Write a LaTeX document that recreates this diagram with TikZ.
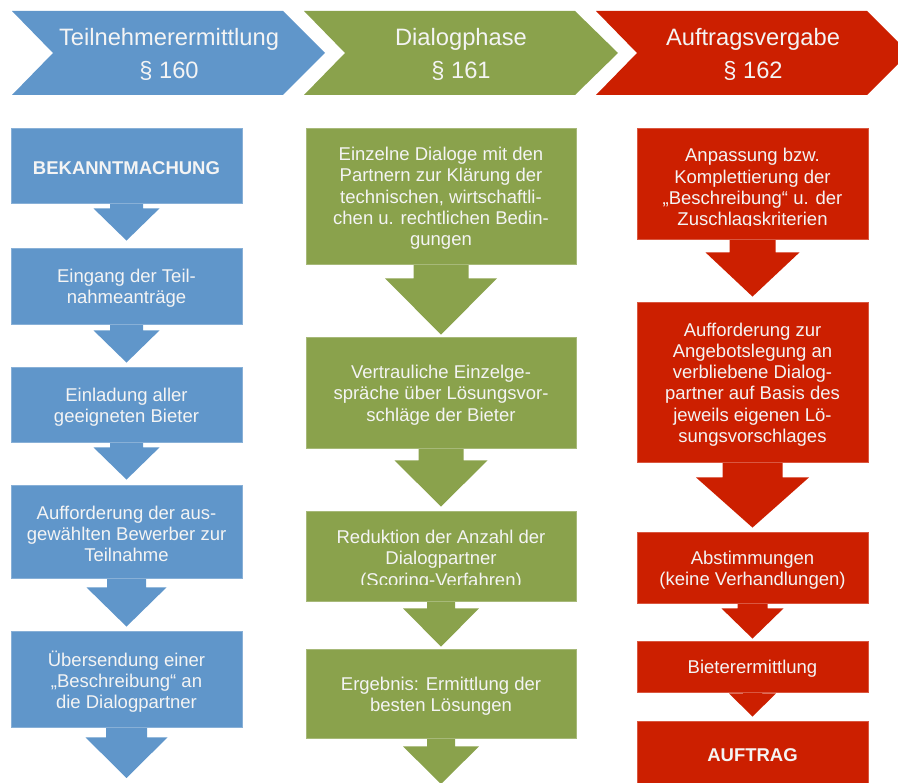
\documentclass[tikz,border=0pt]{standalone}
\usepackage{fontspec}
\setmainfont{Liberation Sans}
\usetikzlibrary{calc}
\definecolor{cblue}{HTML}{6096CA}
\definecolor{cgreen}{HTML}{8AA24C}
\definecolor{cred}{HTML}{CC1F00}
\definecolor{ctext}{HTML}{F4F4F4}
\newcommand{\mybody}{\fontsize{18.5}{21.3}\selectfont}
\newcommand{\myhead}{\fontsize{23.7}{28}\selectfont}
\pgfdeclarelayer{back}
\pgfsetlayers{back,main}
% #1 colour, #2 from node, #3 target point, #4 shaft half width, #5 head half width, #6 head drop, #7 gap
\newcommand{\blkarrow}[7]{%
  \begin{pgfonlayer}{back}
  \fill[#1] ($(#2.south)+(-#4,-2)$) -- ($(#2.south)+(-#4,#6)$) -- ($(#2.south)+(-#5,#6)$)
    -- ($(#3)+(0,-#7)$) -- ($(#2.south)+(#5,#6)$) -- ($(#2.south)+(#4,#6)$) -- ($(#2.south)+(#4,-2)$) -- cycle;
  \end{pgfonlayer}}
% #1 name, #2 colour, #3 centre, #4 width, #5 height, #6 text
\newcommand{\stepbox}[6]{%
  \node[box=#2, minimum width=#4pt, minimum height=#5pt] (#1) at #3 {};
  \node[boxtext] (#1t) at ($(#1.center)+(0,2.5)$) {#6};}
\begin{document}
\begin{tikzpicture}[x=1pt,y=-1pt,
  box/.style={rectangle, inner sep=0pt, draw=#1!75!white, line width=0.8pt, fill=#1},
  boxtext/.style={inner sep=0pt, text=ctext, align=center, font=\mybody},
  head/.style={inner sep=0pt, text=ctext, font=\myhead, anchor=base}]
\useasboundingbox (0,0) rectangle (898,783);

% header chevrons
\fill[cblue]  (12,11) -- (283,11) -- (325,53) -- (283,95) -- (12,95) -- (53,53) -- cycle;
\fill[cgreen] (304,11) -- (575,11) -- (618,53) -- (575,95) -- (304,95) -- (345,53) -- cycle;
\fill[cred]   (596,11) -- (867,11) -- (909,53) -- (867,95) -- (596,95) -- (637,53) -- cycle;
\node[head] (h1) at (169,45.5) {Teilnehmerermittlung};
\node[head] (h1n) at (169,78.5) {§ 160};
\node[head] (h2) at (461,45.5) {Dialogphase};
\node[head] (h2n) at (461,78.5) {§ 161};
\node[head] (h3) at (753,45.5) {Auftragsvergabe};
\node[head] (h3n) at (753,78.5) {§ 162};

% blue column
\stepbox{b1}{cblue}{(126.5,165.5)}{231}{75}{\textbf{BEKANNTMACHUNG}}
\stepbox{b2}{cblue}{(126.5,286)}{231}{76}{Eingang der Teil-\\nahmeanträge}
\stepbox{b3}{cblue}{(126.5,404.5)}{231}{75}{Einladung aller\\geeigneten Bieter}
\stepbox{b4}{cblue}{(126.5,531.5)}{231}{93}{Aufforderung der aus-\\gewählten Bewerber zur\\Teilnahme}
\stepbox{b5}{cblue}{(126.5,679)}{231}{96}{Übersendung einer\\„Beschreibung“ an\\die Dialogpartner}
\coordinate (bend) at (126.5,778);
\blkarrow{cblue}{b1}{b2.north}{16.5}{33}{5}{7}
\blkarrow{cblue}{b2}{b3.north}{16.5}{33}{6}{4}
\blkarrow{cblue}{b3}{b4.north}{16.5}{33}{5}{5}
\blkarrow{cblue}{b4}{b5.north}{19.5}{40}{9}{4}
\blkarrow{cblue}{b5}{bend}{20.5}{41}{10}{0}

% green column
\stepbox{g1}{cgreen}{(441,196)}{270}{136}{Einzelne Dialoge mit den\\Partnern zur Klärung der\\technischen, wirtschaftli-\\chen u. rechtlichen Bedin-\\gungen}
\stepbox{g2}{cgreen}{(441,392.5)}{270}{111}{Vertrauliche Einzelge-\\spräche über Lösungsvor-\\schläge der Bieter}
\node[box=cgreen, minimum width=270pt, minimum height=90pt] (g3) at (441,556) {};
\begin{scope}
  \clip (306,511) rectangle (576,585);
  \node[boxtext] (g3t) at (441,560) {Reduktion der Anzahl der\\Dialogpartner\\(Scoring-Verfahren)};
\end{scope}
\stepbox{g4}{cgreen}{(441,693.5)}{270}{89}{Ergebnis: Ermittlung der\\besten Lösungen}
\coordinate (gend) at (441,784);
\blkarrow{cgreen}{g1}{g2.north}{27.5}{56}{14}{2}
\blkarrow{cgreen}{g2}{g3.north}{22.5}{46.5}{12}{4}
\blkarrow{cgreen}{g3}{g4.north}{14}{38}{7}{2}
\blkarrow{cgreen}{g4}{gend}{14}{38}{8}{0}

% red column
\node[box=cred, minimum width=231pt, minimum height=111pt] (r1) at (752.5,183.5) {};
\begin{scope}
  \clip (637,128) rectangle (868,225.5);
  \node[boxtext] (r1t) at (752.5,189) {Anpassung bzw.\\Komplettierung der\\„Beschreibung“ u. der\\Zuschlagskriterien};
\end{scope}
\stepbox{r2}{cred}{(752.5,382)}{231}{160}{Aufforderung zur\\Angebotslegung an\\verbliebene Dialog-\\partner auf Basis des\\jeweils eigenen Lö-\\sungsvorschlages}
\stepbox{r3}{cred}{(752.5,567.5)}{231}{71}{Abstimmungen\\(keine Verhandlungen)}
\stepbox{r4}{cred}{(752.5,666.5)}{231}{51}{Bieterermittlung}
\node[box=cred, minimum width=231pt, minimum height=69pt] (r5) at (752.5,755.5) {};
\node[boxtext] (r5t) at (752.5,755) {\textbf{AUFTRAG}};
\blkarrow{cred}{r1}{r2.north}{23}{47}{13}{5}
\blkarrow{cred}{r2}{r3.north}{30}{56.5}{15}{4}
\blkarrow{cred}{r3}{r4.north}{15}{31}{5}{2}
\blkarrow{cred}{r4}{r5.north}{9.5}{23.5}{1}{4}
\end{tikzpicture}
\end{document}
